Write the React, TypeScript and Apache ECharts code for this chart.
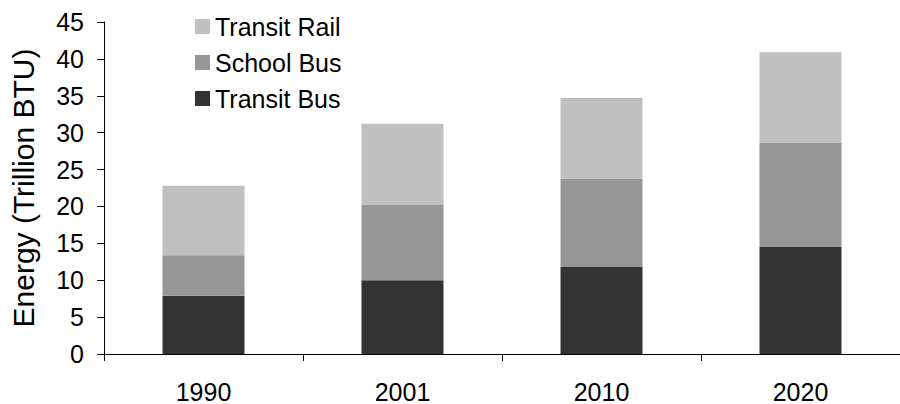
import React, { useEffect, useRef } from "react";
import * as echarts from "echarts";

// Energy use by mode, in trillion BTU
const years = ["1990", "2001", "2010", "2020"];
const transitBus = [7.9, 10.0, 11.8, 14.5];
const schoolBus = [5.5, 10.2, 12.0, 14.1];
const transitRail = [9.4, 11.0, 10.9, 12.3];
const yTicks = { min: 0, max: 45, interval: 5 };

const FONT = "'Liberation Sans', Arial, sans-serif";

export default function App() {
  const ref = useRef<HTMLDivElement>(null);

  useEffect(() => {
    if (!ref.current) return;
    const chart = echarts.init(ref.current, undefined, { renderer: "svg" });
    const barStyle = (name: string, data: number[], color: string) => ({
      name,
      type: "bar" as const,
      stack: "energy",
      data,
      barWidth: 82,
      itemStyle: { color },
    });
    chart.setOption({
      animation: false,
      backgroundColor: "#ffffff",
      textStyle: { fontFamily: FONT },
      legend: {
        orient: "vertical",
        left: 195,
        top: 14,
        padding: 0,
        itemWidth: 15,
        itemHeight: 15,
        itemGap: 11,
        icon: "rect",
        data: ["Transit Rail", "School Bus", "Transit Bus"],
        textStyle: { fontFamily: FONT, fontSize: 25, color: "#000", padding: [0, 0, 0, 0] },
      },
      grid: { left: 104, top: 22, bottom: 50, width: 804, containLabel: false },
      xAxis: {
        type: "category",
        data: years,
        boundaryGap: true,
        axisLine: { show: true, lineStyle: { color: "#000", width: 1 } },
        axisTick: { show: true, length: 7, lineStyle: { color: "#000" } },
        axisLabel: { margin: 25, fontSize: 25, color: "#000", fontFamily: FONT },
      },
      yAxis: {
        type: "value",
        min: yTicks.min,
        max: yTicks.max,
        interval: yTicks.interval,
        name: "Energy (Trillion BTU)",
        nameLocation: "middle",
        nameGap: 66,
        nameTextStyle: { fontSize: 30, color: "#000", fontFamily: FONT },
        axisLine: { show: true, lineStyle: { color: "#000", width: 1 } },
        axisTick: { show: true, length: 7, lineStyle: { color: "#000" } },
        axisLabel: { margin: 20, fontSize: 25, color: "#000", fontFamily: FONT },
        splitLine: { show: false },
      },
      series: [
        barStyle("Transit Bus", transitBus, "#333333"),
        barStyle("School Bus", schoolBus, "#969696"),
        barStyle("Transit Rail", transitRail, "#c0c0c0"),
      ],
    });
    return () => chart.dispose();
  }, []);

  return (
    <div
      ref={ref}
      style={{ position: "absolute", left: 0, top: 0, width: 900, height: 404 }}
    />
  );
}
